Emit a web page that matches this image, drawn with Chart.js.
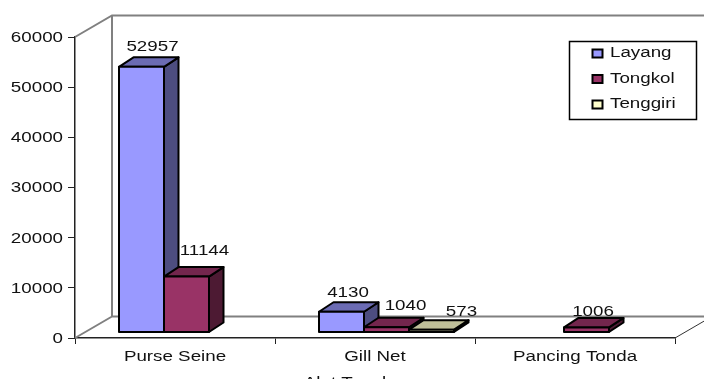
<!DOCTYPE html>
<html>
<head>
<meta charset="utf-8">
<title>Alat Tangkap</title>
<script src="https://cdn.jsdelivr.net/npm/chart.js@4"></script>
<style>
    html, body { margin: 0; padding: 0; background: #fff; overflow: hidden; }
    #wrap { width: 704px; height: 379px; }
</style>
</head>
<body>
<div id="wrap"><canvas id="chart"></canvas></div>
<script>
const categories = ['Purse Seine', 'Gill Net', 'Pancing Tonda'];
const layang = [52957, 4130, null];
const tongkol = [11144, 1040, 1006];
const tenggiri = [null, 573, null];
const yTicks = [0, 10000, 20000, 30000, 40000, 50000, 60000];
const seriesNames = ['Layang', 'Tongkol', 'Tenggiri'];
const xTitle = 'Alat Tangkap';

// front, top and side colours of each series
const frontColors = ['#9999FF', '#993366', '#FFFFCC'];
const topColors = ['#6B6BB3', '#73264D', '#BFBF99'];
const sideColors = ['#4D4D80', '#4D1A33', '#80806B'];

// 3D look: how far the bars sit behind the axis plane, how deep they are, and the wall depth
const barShift = { x: 11.5, y: -5.5 };
const barDepth = { x: 14.5, y: -9.5 };
const wallDepth = { x: 37, y: -21.5 };
const textStretch = 1.34;
const fontSpec = '14px "Liberation Sans", Arial, sans-serif';

// label offset from the middle of each bar's top edge, per dataset and category
const labelNudges = [
    [[11, -19.5], [6.5, -19], null],
    [[18, -25], [19, -21.5], [6.5, -15]],
    [null, [30, -17], null]
];

// all canvas text is widened a little
const wideText = {
    id: 'wideText',
    beforeInit(chart) {
        const ctx = chart.ctx;
        const rawFillText = ctx.fillText.bind(ctx);
        ctx.fillText = (text, x, y) => {
            ctx.save();
            ctx.translate(x, y);
            ctx.scale(textStretch, 1);
            rawFillText(text, 0, 0);
            ctx.restore();
        };
    }
};

const walls = {
    id: 'walls',
    beforeDatasetsDraw(chart) {
        const { ctx, chartArea: a } = chart;
        const backLeft = a.left + wallDepth.x;
        const backTop = a.top + wallDepth.y;
        const backBottom = a.bottom + wallDepth.y;
        ctx.save();
        ctx.strokeStyle = '#808080';
        ctx.lineWidth = 2;
        ctx.beginPath();
        ctx.moveTo(a.left, a.top);
        ctx.lineTo(backLeft, backTop);
        ctx.lineTo(a.right + wallDepth.x, backTop);
        ctx.moveTo(backLeft, backTop);
        ctx.lineTo(backLeft, backBottom);
        ctx.lineTo(a.right + wallDepth.x, backBottom);
        ctx.moveTo(backLeft, backBottom);
        ctx.lineTo(a.left, a.bottom);
        ctx.stroke();
        ctx.strokeStyle = '#333';
        ctx.lineWidth = 1;
        ctx.beginPath();
        ctx.moveTo(a.right, a.bottom);
        ctx.lineTo(a.right + wallDepth.x, backBottom);
        ctx.stroke();
        ctx.restore();
    }
};

function face(ctx, points, fill) {
    ctx.beginPath();
    points.forEach((p, i) => i ? ctx.lineTo(p[0], p[1]) : ctx.moveTo(p[0], p[1]));
    ctx.closePath();
    if (fill) {
        ctx.fillStyle = fill;
        ctx.fill();
    }
    ctx.stroke();
}

function eachBar(chart, fn) {
    chart.data.datasets.forEach((ds, di) => {
        chart.getDatasetMeta(di).data.forEach((bar, i) => {
            if (ds.data[i] != null) fn(bar, di, i, ds.data[i]);
        });
    });
}

// side and top faces go down first, the library then paints the fronts over them
const bars3d = {
    id: 'bars3d',
    beforeDatasetsDraw(chart) {
        const ctx = chart.ctx;
        ctx.save();
        ctx.translate(barShift.x, barShift.y);
        ctx.strokeStyle = '#000';
        ctx.lineWidth = 2;
        ctx.lineJoin = 'round';
        eachBar(chart, (bar, di) => {
            const l = bar.x - bar.width / 2;
            const r = bar.x + bar.width / 2;
            const t = bar.y;
            const b = bar.base;
            const dx = barDepth.x;
            const dy = barDepth.y;
            face(ctx, [[r, t], [r + dx, t + dy], [r + dx, b + dy], [r, b]], sideColors[di]);
            face(ctx, [[l, t], [l + dx, t + dy], [r + dx, t + dy], [r, t]], topColors[di]);
        });
    },
    afterDatasetsDraw(chart) {
        const ctx = chart.ctx;
        // outline of the front faces, centred on their edges
        eachBar(chart, bar => {
            const l = bar.x - bar.width / 2;
            const r = bar.x + bar.width / 2;
            face(ctx, [[l, bar.y], [r, bar.y], [r, bar.base], [l, bar.base]]);
        });
        ctx.restore();
        // value labels
        ctx.save();
        ctx.font = fontSpec;
        ctx.fillStyle = '#111';
        ctx.textAlign = 'center';
        ctx.textBaseline = 'middle';
        eachBar(chart, (bar, di, i, value) => {
            const n = labelNudges[di][i];
            ctx.fillText(String(value), bar.x + barShift.x + n[0], bar.y + barShift.y + n[1]);
        });
        ctx.restore();
    }
};

const legendBox = {
    id: 'legendBox',
    afterDraw(chart) {
        const ctx = chart.ctx;
        ctx.save();
        ctx.fillStyle = '#fff';
        ctx.strokeStyle = '#000';
        ctx.lineWidth = 1.5;
        ctx.fillRect(569.5, 41.5, 127, 78);
        ctx.strokeRect(569.5, 41.5, 127, 78);
        ctx.font = fontSpec;
        ctx.textAlign = 'left';
        ctx.textBaseline = 'middle';
        seriesNames.forEach((name, i) => {
            const y = 53 + i * 25.5;
            ctx.lineWidth = 2;
            ctx.fillStyle = frontColors[i];
            ctx.fillRect(592.5, y - 3.5, 10, 8);
            ctx.strokeRect(592.5, y - 3.5, 10, 8);
            ctx.fillStyle = '#111';
            ctx.fillText(name, 610, y + 0.5);
        });
        // axis title, cut by the bottom of the page
        ctx.textAlign = 'center';
        ctx.fillText(xTitle, 358, 383);
        ctx.restore();
    }
};

new Chart(document.getElementById('chart'), {
    type: 'bar',
    data: {
        labels: categories,
        datasets: [layang, tongkol, tenggiri].map((values, i) => ({
            label: seriesNames[i],
            data: values,
            backgroundColor: frontColors[i],
            borderWidth: 0
        }))
    },
    options: {
        responsive: true,
        maintainAspectRatio: false,
        animation: false,
        devicePixelRatio: 1,
        layout: { padding: { top: 37, right: 29, bottom: 0, left: 0 } },
        categoryPercentage: 0.675,
        barPercentage: 1,
        plugins: {
            legend: { display: false },
            tooltip: { enabled: false }
        },
        scales: {
            x: {
                border: { color: '#222', width: 1.5 },
                grid: { drawOnChartArea: false, color: '#222', tickLength: 6, lineWidth: 1 },
                ticks: { color: '#111', padding: 5, maxRotation: 0, font: { family: '"Liberation Sans", Arial, sans-serif', size: 14 } },
                afterFit: s => { s.height = 41; }
            },
            y: {
                min: 0,
                max: 60000,
                afterBuildTicks: s => { s.ticks = yTicks.map(value => ({ value })); },
                border: { color: '#222', width: 1.5 },
                grid: { drawOnChartArea: false, color: '#222', tickLength: 7, lineWidth: 1 },
                ticks: { color: '#111', padding: 5, labelOffset: 1, callback: v => String(v), font: { family: '"Liberation Sans", Arial, sans-serif', size: 14 } },
                afterFit: s => { s.width = 75; }
            }
        }
    },
    plugins: [wideText, walls, bars3d, legendBox]
});
</script>
</body>
</html>
